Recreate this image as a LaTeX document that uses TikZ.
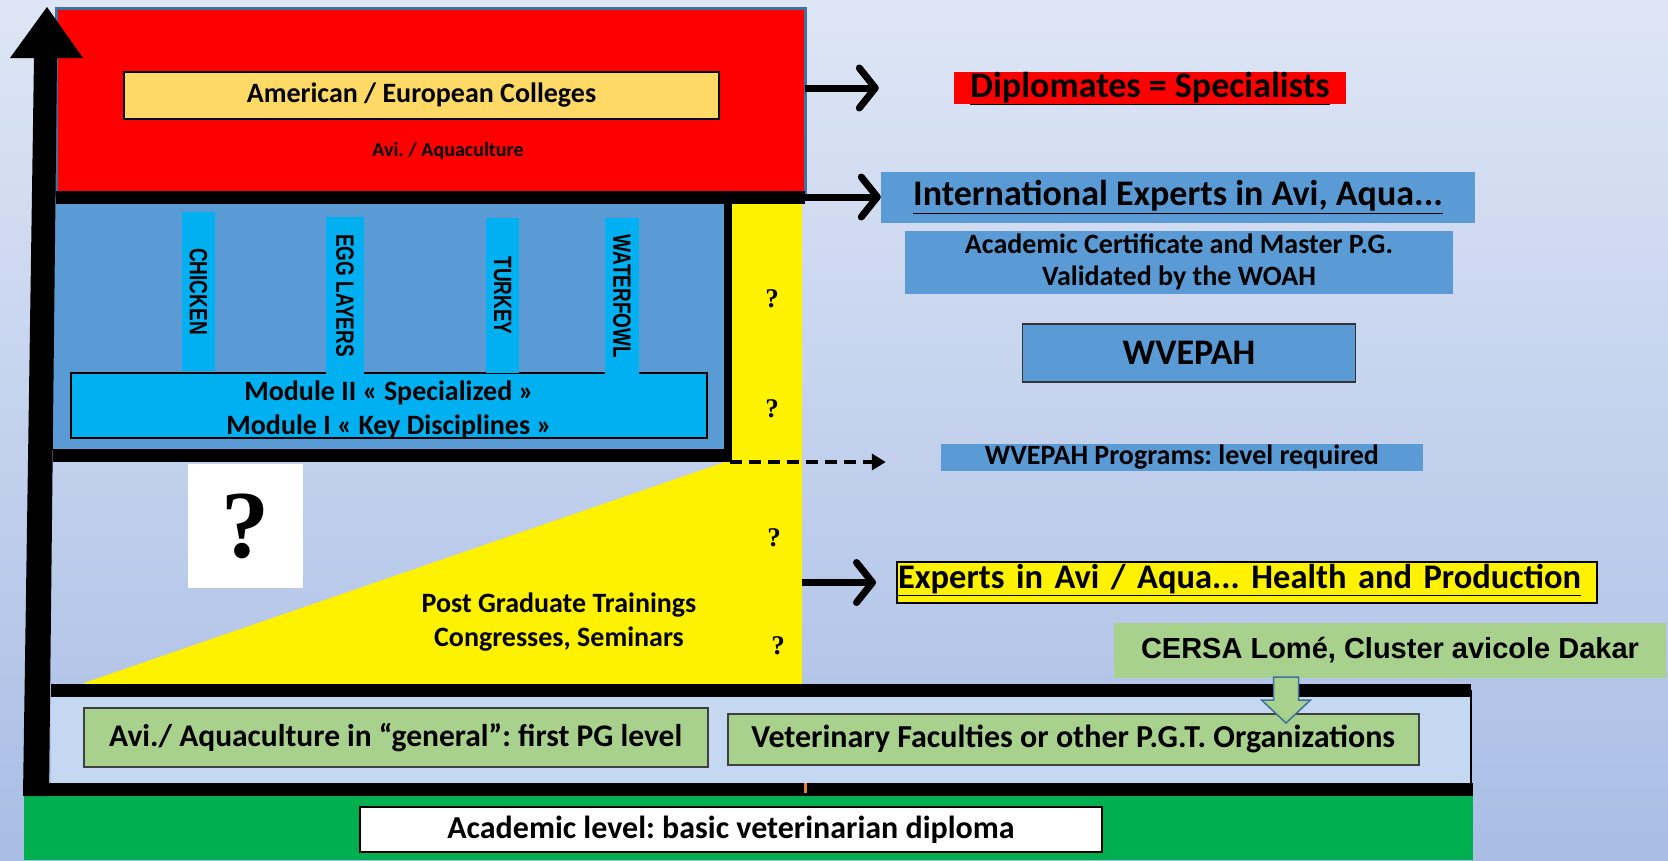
\documentclass[tikz,border=0pt]{standalone}
\usepackage{fontspec}
\setmainfont{Carlito}
\newfontfamily\serifq{Liberation Serif}
\newfontfamily\arialb{Liberation Sans}
\newfontfamily\barfont{Liberation Sans}[FakeStretch=0.76]
\usepackage{tikz}
\usetikzlibrary{arrows.meta}
\usetikzlibrary{positioning}
\frenchspacing

\definecolor{bgtop}{HTML}{DEE6F5}
\definecolor{bgbottom}{HTML}{A9BDE5}
\definecolor{steel}{HTML}{41719C}
\definecolor{gold}{HTML}{FFD966}
\definecolor{midblue}{HTML}{5B9BD5}
\definecolor{cyanbar}{HTML}{00B0F0}
\definecolor{palegreen}{HTML}{A9D18E}
\definecolor{deepgreen}{HTML}{00B050}
\definecolor{paleblue}{HTML}{C5D8F1}
\definecolor{tickorange}{HTML}{ED7D31}

\tikzstyle{zone} = [rectangle, anchor=north west, inner sep=0pt, outer sep=0pt]
\tikzstyle{blackline} = [line width=13pt]
\tikzstyle{bluebox} = [rectangle, fill=midblue, inner sep=0pt, align=center]
\tikzstyle{greenbox} = [rectangle, anchor=north west, draw=black!75, line width=1.5pt, fill=palegreen, inner sep=0pt, font=\fontsize{31.5}{34}\selectfont\bfseries]
\tikzstyle{animalbar} = [rectangle, rotate=-90, fill=cyanbar, inner sep=0pt, minimum height=33pt, font=\barfont\bfseries\fontsize{25}{25}\selectfont]
\tikzstyle{qmark} = [font=\serifq\bfseries\fontsize{27}{27}\selectfont]
\tikzstyle{arrow} = [line width=7pt, -{Straight Barb[length=16pt,width=40pt,round]}]
\tikzstyle{dasharrow} = [line width=4pt, dash pattern=on 12pt off 7pt, -{Triangle[length=14pt,width=16pt]}]

\begin{document}
\begin{tikzpicture}[x=1pt, y=-1pt]
  \useasboundingbox (0,0) rectangle (1668,860);
  \shade[top color=bgtop, bottom color=bgbottom] (0,0) rectangle (1668,860);

  % colleges level
  \node (redzone) [zone, fill=red, draw=steel, line width=3pt, minimum width=749pt, minimum height=189pt] at (56,8) {};
  \node (colleges) [zone, draw=black, line width=1.5pt, fill=gold, minimum width=595pt, minimum height=47pt, font=\fontsize{28}{28}\selectfont\bfseries] at (124,72) {American / European Colleges};
  \node (avi) [font=\fontsize{20}{20}\selectfont\bfseries] at (448,151) {Avi. / Aquaculture};

  % modules level
  \node (bluezone) [zone, fill=midblue, minimum width=675pt, minimum height=258pt] at (53,197) {};
  \node (ycol) [zone, fill=yellow, minimum width=70pt, minimum height=488pt] at (732,197) {};
  \fill[yellow] (84,683) -- (728,461) -- (740,461) -- (740,685) -- (84,685) -- cycle;
  \node (module) [zone, draw=black, line width=2pt, fill=cyanbar, minimum width=636pt, minimum height=65pt] at (71,373) {};
  \node (moduletext) [align=center, font=\fontsize{28}{34}\selectfont\bfseries, yshift=-4pt] at (module.center) {Module II « Specialized »\\Module I « Key Disciplines »};
  \node (chicken) [animalbar, minimum width=159pt] at (198.5,291.5) {CHICKEN};
  \node (layers) [animalbar, minimum width=157pt, minimum height=38pt] at (345,295.5) {EGG LAYERS};
  \node (turkey) [animalbar, minimum width=155pt] at (502.5,295.5) {TURKEY};
  \node (waterfowl) [animalbar, minimum width=157pt, minimum height=34pt] at (622,296.5) {WATERFOWL};
  \draw[blackline] (redzone.south west) -- (redzone.south east);
  \draw[line width=8pt] (bluezone.north east) -- ([yshift=-7pt]bluezone.south east);
  \draw[blackline] (bluezone.south west) -- (bluezone.south east);

  % trainings
  \node (bigq) [zone, fill=white, minimum width=115pt, minimum height=124pt, font=\serifq\bfseries\fontsize{96}{96}\selectfont] at (188,464) {?};
  \node (pgt) [align=center, font=\fontsize{28}{34}\selectfont\bfseries] at (559,622) {Post Graduate Trainings\\Congresses, Seminars};
  \node (q1) [qmark] at (772,299) {?};
  \node (q2) [qmark] at (772,409) {?};
  \node (q3) [qmark] at (774,538) {?};
  \node (q4) [qmark] at (778,646) {?};

  % first level and diploma
  \node (lowzone) [zone, fill=paleblue, minimum width=1420pt, minimum height=99pt] at (51,690) {};
  \node (greenzone) [zone, fill=deepgreen, minimum width=1449pt, minimum height=71pt] at (24,789) {};
  \draw[blackline] (lowzone.north west) -- (lowzone.north east);
  \draw[blackline] (greenzone.north west) -- (greenzone.north east);
  \draw[line width=1.5pt] (lowzone.north east) -- (lowzone.south east);
  \node (general) [greenbox, minimum width=624pt, minimum height=59pt] at (83,707) {Avi./ Aquaculture in “general”: first PG level};
  \node (vetfac) [greenbox, minimum width=691pt, minimum height=51pt, font=\fontsize{32}{34}\selectfont\bfseries] at (727,713) {Veterinary Faculties or other P.G.T. Organizations};
  \node (academic) [zone, draw=black, line width=2pt, fill=white, minimum width=742pt, minimum height=45pt, font=\fontsize{32}{32}\selectfont\bfseries] at (360,807) {Academic level: basic veterinarian diploma};
  \draw[tickorange, line width=3pt] (805,783) -- (805,793);

  % big vertical arrow
  \fill[black] (23,796) -- (34,58) -- (10,58) -- (47,7) -- (83,58) -- (57,58) -- (49,796) -- cycle;

  % outcomes
  \node (diplomates) [rectangle, fill=red, inner sep=0pt, minimum width=392pt, minimum height=32pt, text height=25pt, text depth=7pt, font=\fontsize{36}{36}\selectfont\bfseries] at (1150,88) {\underline{Diplomates = Specialists}};
  \node (intl) [bluebox, minimum width=594pt, minimum height=51pt, font=\fontsize{36}{36}\selectfont\bfseries] at (1178,197) {\underline{International Experts in Avi, Aqua...}};
  \node (certif) [bluebox, minimum width=548pt, minimum height=63pt, font=\fontsize{28}{32}\selectfont\bfseries] at (1179,262) {Academic Certificate and Master P.G.\\Validated by the WOAH};
  \node (wvepah) [bluebox, draw=black!80, line width=1.2pt, minimum width=333pt, minimum height=58pt, font=\fontsize{36}{36}\selectfont\bfseries] at (1189,353) {WVEPAH};
  \node (programs) [bluebox, minimum width=482pt, minimum height=27pt, font=\fontsize{28}{28}\selectfont\bfseries] at (1182,457.5) {WVEPAH Programs: level required};
  \node (experts) [rectangle, anchor=north west, fill=yellow, draw=black, line width=2pt, inner xsep=1pt, inner ysep=0pt, minimum height=41pt, text width=698pt, text height=24pt, text depth=13pt, align=left, font=\fontsize{34.5}{34.5}\selectfont\bfseries] at (896,561) {\underline{Experts in Avi / Aqua... Health and Production}};
  \node (cersa) [rectangle, fill=palegreen, inner sep=0pt, minimum width=552pt, minimum height=55pt, font=\arialb\bfseries\fontsize{29}{29}\selectfont] at (1390,650) {CERSA Lomé, Cluster avicole Dakar};

  % block arrow from cersa down to vetfac
  \coordinate (blocktop) at (1286,677);
  \filldraw[fill=palegreen, draw=steel, line width=1.5pt, line join=miter] ([xshift=-12.5pt]blocktop) -- ([xshift=12.5pt]blocktop) -- ++(0,23) -- ++(12,0) -- ++(-24.5,23) -- ++(-24.5,-23) -- ++(12,0) -- cycle;

  \coordinate (dashstart) at (730,462);
  \draw[arrow] (redzone.east |- diplomates.west) -- (diplomates.west) [shorten >=75pt];
  \draw[arrow] (redzone.south east) -- (intl.west);
  \draw[dasharrow] (dashstart) -- (dashstart -| programs.west) [shorten >=55pt];
  \draw[arrow] (ycol.east |- experts.west) -- (experts.west) [shorten >=20pt];
\end{tikzpicture}
\end{document}
